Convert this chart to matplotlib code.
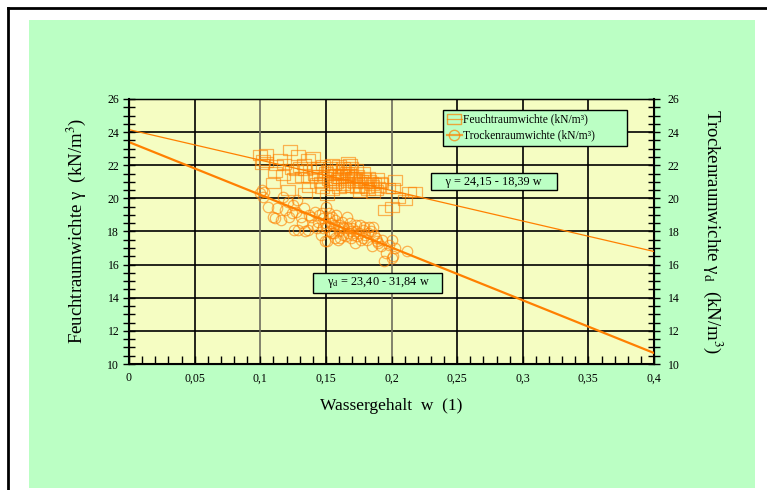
import numpy as np
import matplotlib
matplotlib.use("Agg")
import matplotlib.pyplot as plt
from matplotlib.lines import Line2D
from matplotlib.patches import Rectangle

plt.rcParams['font.family'] = ['Liberation Serif', 'DejaVu Serif']
plt.rcParams['mathtext.fontset'] = 'stix'

# Feuchtraumwichte (squares)
sq_w = [0.100, 0.102, 0.104, 0.101, 0.104, 0.110, 0.111, 0.112, 0.117, 0.121,
        0.123, 0.124, 0.126, 0.129, 0.130, 0.132, 0.134, 0.134, 0.136, 0.138,
        0.140, 0.141, 0.143, 0.144, 0.145, 0.147, 0.148, 0.150, 0.151, 0.152,
        0.153, 0.155, 0.155, 0.156, 0.157, 0.158, 0.159, 0.160, 0.161, 0.162,
        0.163, 0.164, 0.165, 0.166, 0.167, 0.168, 0.168, 0.170, 0.171, 0.172,
        0.173, 0.174, 0.176, 0.177, 0.178, 0.180, 0.182, 0.182, 0.184, 0.186,
        0.187, 0.189, 0.190, 0.192, 0.195, 0.197, 0.200, 0.201, 0.203, 0.205,
        0.210, 0.213, 0.218,
        0.142, 0.146, 0.149, 0.152, 0.154, 0.156, 0.158, 0.160, 0.161, 0.163,
        0.165, 0.166, 0.167, 0.169, 0.170, 0.172, 0.174, 0.175, 0.177, 0.179,
        0.181, 0.183, 0.185, 0.188, 0.191, 0.118, 0.127, 0.133, 0.137, 0.115]
sq_g = [22.6, 22.3, 22.7, 22.1, 22.2, 20.9, 21.6, 22.0, 21.4, 20.5,
        22.9, 21.8, 21.2, 22.6, 21.9, 21.3, 20.3, 21.7, 22.4, 21.2,
        22.5, 21.8, 20.9, 21.9, 21.4, 20.6, 22.0, 21.6, 20.2, 21.1,
        21.9, 20.5, 22.1, 21.4, 21.7, 20.9, 21.2, 22.0, 21.5, 21.5,
        20.8, 21.8, 21.1, 21.4, 22.2, 21.5, 22.1, 20.7, 21.3, 21.3,
        21.8, 20.6, 20.4, 21.1, 21.6, 20.9, 21.3, 20.5, 21.0, 20.3,
        20.9, 21.2, 20.7, 20.9, 19.3, 20.6, 19.5, 20.6, 21.1, 20.0,
        19.9, 20.4, 20.4,
        21.4, 21.0, 21.3, 21.7, 21.0, 20.8, 21.5, 20.6, 21.2, 21.9,
        20.7, 21.6, 21.0, 21.9, 21.2, 20.9, 21.4, 21.0, 20.7, 21.2,
        20.6, 21.1, 20.8, 20.5, 21.0, 22.1, 21.7, 22.1, 20.7, 22.4]

# Trockenraumwichte (circles)
ci_w = [0.100, 0.101, 0.102, 0.103, 0.110, 0.111, 0.116, 0.117, 0.119, 0.121,
        0.124, 0.125, 0.126, 0.128, 0.129, 0.131, 0.133, 0.134, 0.136, 0.137,
        0.139, 0.140, 0.142, 0.144, 0.146, 0.147, 0.148, 0.149, 0.149, 0.150,
        0.151, 0.152, 0.153, 0.155, 0.155, 0.156, 0.157, 0.158, 0.159, 0.159,
        0.160, 0.162, 0.163, 0.164, 0.166, 0.167, 0.168, 0.169, 0.170, 0.172,
        0.173, 0.174, 0.176, 0.177, 0.178, 0.180, 0.182, 0.183, 0.185, 0.186,
        0.188, 0.190, 0.193, 0.194, 0.196, 0.200, 0.200, 0.201, 0.203, 0.212,
        0.143, 0.145, 0.148, 0.150, 0.152, 0.154, 0.156, 0.157, 0.160, 0.161,
        0.163, 0.165, 0.167, 0.169, 0.171, 0.173, 0.175, 0.178, 0.179, 0.181,
        0.184, 0.187, 0.189, 0.192, 0.122, 0.127, 0.132, 0.106, 0.113, 0.198]
ci_g = [20.3, 20.5, 20.1, 20.4, 18.9, 18.8, 18.7, 20.1, 19.3, 19.8,
        19.1, 19.6, 18.1, 19.9, 18.1, 18.9, 19.4, 18.0, 18.1, 19.0,
        18.9, 18.4, 19.2, 18.6, 17.8, 19.1, 18.2, 18.5, 17.4, 19.5,
        17.4, 18.8, 18.0, 18.9, 17.9, 18.4, 17.6, 19.0, 18.3, 17.5,
        18.0, 18.6, 17.8, 18.2, 18.9, 17.9, 18.5, 17.6, 18.2, 17.3,
        18.0, 17.7, 18.4, 17.5, 18.1, 17.8, 17.9, 18.3, 17.1, 18.3,
        17.6, 17.3, 17.5, 16.2, 16.7, 17.5, 16.4, 16.5, 17.0, 16.8,
        18.2, 19.0, 18.8, 18.3, 19.1, 18.5, 17.9, 18.7, 18.4, 17.6,
        18.3, 17.7, 18.2, 18.0, 17.8, 18.4, 17.9, 17.6, 18.3, 17.5,
        18.0, 17.8, 17.4, 17.1, 18.9, 19.2, 18.5, 19.5, 19.4, 17.2]

# regression lines
fit_w = [0.0, 0.4]
a_feucht, b_feucht = 24.15, -18.39
a_trocken, b_trocken = 23.40, -31.84

x_ticks = [0, 0.05, 0.1, 0.15, 0.2, 0.25, 0.3, 0.35, 0.4]
x_labels = ['0', '0,05', '0,1', '0,15', '0,2', '0,25', '0,3', '0,35', '0,4']
y_ticks = [10, 12, 14, 16, 18, 20, 22, 24, 26]

orange = '#FF8000'
green = '#BBFFC4'
yellow = '#F5FDC2'

fig = plt.figure(figsize=(7.67, 4.9), dpi=100)
fig.patch.set_facecolor('white')
fig.patches.append(Rectangle((29/767, 2/490), 726/767, 468/490, transform=fig.transFigure,
                             facecolor=green, edgecolor='none', zorder=-5))
fig.lines.append(Line2D([8/767, 1], [1 - 8/490, 1 - 8/490], transform=fig.transFigure,
                        color='black', lw=2, zorder=-5))
fig.lines.append(Line2D([8/767, 8/767], [0, 1 - 8/490], transform=fig.transFigure,
                        color='black', lw=2, zorder=-5))

ax = fig.add_axes([129/767, 126/490, 525/767, 265/490])
ax.set_facecolor(yellow)
ax.set_xlim(0, 0.4)
ax.set_ylim(10, 26)

# grid
for yv in y_ticks[1:-1]:
    ax.axhline(yv, color='black', lw=1.2, zorder=1)
for xv in x_ticks[1:-1]:
    c = '#6e6e5e' if xv in (0.1, 0.2) else 'black'
    ax.axvline(xv, color=c, lw=1.2, zorder=1)

wl = np.array(fit_w)
ax.plot(wl, a_feucht + b_feucht * wl, color=orange, lw=0.9, zorder=3)
ax.plot(wl, a_trocken + b_trocken * wl, color=orange, lw=1.6, zorder=3)

rect_marker = [(-1.35, -1), (1.35, -1), (1.35, 1), (-1.35, 1), (-1.35, -1)]
ax.plot(sq_w, sq_g, linestyle='none', marker=rect_marker, markersize=10,
        markerfacecolor='none', markeredgecolor=orange, mew=0.9, alpha=0.6, zorder=4)
ax.plot(ci_w, ci_g, linestyle='none', marker='o', markersize=7.5,
        markerfacecolor='none', markeredgecolor=orange, mew=0.9, alpha=0.6, zorder=4)

ax.set_xticks(x_ticks)
ax.set_xticklabels(x_labels, fontsize=8.5)
ax.set_xticks(np.arange(0, 0.401, 0.01), minor=True)
ax.set_yticks(y_ticks)
ax.set_yticklabels([str(v) for v in y_ticks], fontsize=8.5)
ax.set_yticks(np.arange(10, 26.01, 0.5), minor=True)
ax.tick_params(axis='x', which='both', direction='in', length=6, width=1, top=False, pad=6)
ax.tick_params(axis='y', which='both', direction='inout', length=8, width=1, pad=3)
for s in ax.spines.values():
    s.set_linewidth(1.5)
ax.spines['top'].set_linewidth(1)

ax2 = ax.twinx()
ax2.set_ylim(10, 26)
ax2.set_yticks(y_ticks)
ax2.set_yticklabels([str(v) for v in y_ticks], fontsize=8.5)
ax2.set_yticks(np.arange(10, 26.01, 0.5), minor=True)
ax2.tick_params(axis='y', which='both', direction='inout', length=8, width=1, pad=6)

ax.set_xlabel('Wassergehalt  w  (1)', fontsize=12.5, labelpad=10)
ax.set_ylabel('Feuchtraumwichte γ  (kN/m$^3$)', fontsize=13.5, labelpad=14)
ax2.set_ylabel('Trockenraumwichte γ$_{\\rm d}$  (kN/m$^3$)', fontsize=13.5,
               rotation=270, labelpad=32)

handles = [Line2D([], [], color=orange, lw=0.9, marker=rect_marker, markersize=10,
                  markerfacecolor='none', alpha=0.7),
           Line2D([], [], color=orange, lw=1.6, marker='o', markersize=7.5,
                  markerfacecolor='none', alpha=0.7)]
leg = ax.legend(handles, ['Feuchtraumwichte (kN/m³)', 'Trockenraumwichte (kN/m³)'],
                loc='upper left', bbox_to_anchor=(0.598, 0.82, 0.351, 0.14), mode='expand',
                fontsize=8.3, frameon=True, fancybox=False, handlelength=1.3,
                handletextpad=0.1, borderpad=0.35, labelspacing=0.35, borderaxespad=0)
leg.get_frame().set_facecolor(green)
leg.get_frame().set_edgecolor('black')
leg.get_frame().set_linewidth(1)
leg.get_frame().set_alpha(1)
leg.set_zorder(10)

box = dict(boxstyle='square,pad=0.2', facecolor=green, edgecolor='black', lw=1)
ax.text(0.278, 21.0, '    γ = 24,15 - 18,39 w    ', fontsize=8.8, ha='center', va='center',
        bbox=box, zorder=10)
ax.text(0.189, 14.9, '    γ$_{\\rm d}$ = 23,40 - 31,84 w    ', fontsize=8.8, ha='center',
        va='center', bbox=box, zorder=10)

fig.savefig('out.png', dpi=100)
